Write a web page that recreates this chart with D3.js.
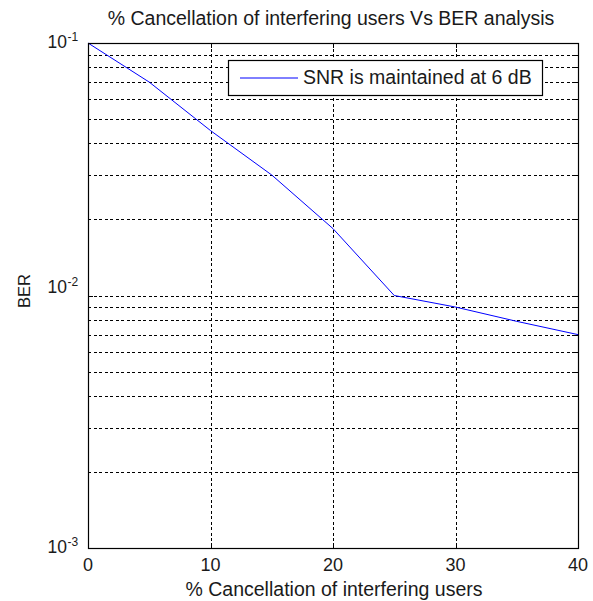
<!DOCTYPE html>
<html>
<head>
<meta charset="utf-8">
<script src="https://cdn.jsdelivr.net/npm/d3@7"></script>
<style>
  body { margin: 0; background: #fff; }
  text { font-family: "Liberation Sans", Arial, sans-serif; fill: #1a1a1a; }
</style>
</head>
<body>
<script>
// data
const cancellation = [0, 5, 10, 15, 20, 25, 30, 35, 40];
const ber = [0.1, 0.07, 0.045, 0.03, 0.0184, 0.01, 0.009, 0.0079, 0.007];
const xTicks = [0, 10, 20, 30, 40];
const yDecades = [1e-3, 1e-2, 1e-1];
const yExponents = ["-3", "-2", "-1"];
const titleText = "% Cancellation of interfering users Vs BER analysis";
const xLabel = "% Cancellation of interfering users";
const yLabel = "BER";
const legendLabel = "SNR is maintained at 6 dB";

const w = 593, h = 601;
const plotLeft = 88, plotRight = 578, plotTop = 43, plotBottom = 548;

const svg = d3.select('body').append('svg')
    .attr('width', w)
    .attr('height', h);

const x = d3.scaleLinear().domain([0, 40]).range([plotLeft, plotRight]);
const y = d3.scaleLog().domain([1e-3, 1e-1]).range([plotBottom, plotTop]);

const allYTicks = y.ticks().filter(v => v > 1e-3 && v < 1e-1);

const grid = svg.append('g')
    .attr('stroke', '#000')
    .attr('stroke-width', 1)
    .attr('stroke-dasharray', '3,2.5')
    .attr('shape-rendering', 'crispEdges');

grid.selectAll('.gx')
    .data(xTicks.slice(1, -1))
    .enter().append('line')
    .attr('x1', d => Math.round(x(d)) + 0.5)
    .attr('x2', d => Math.round(x(d)) + 0.5)
    .attr('y1', plotTop)
    .attr('y2', plotBottom);

grid.selectAll('.gy')
    .data(allYTicks)
    .enter().append('line')
    .attr('x1', plotLeft)
    .attr('x2', plotRight)
    .attr('y1', d => Math.round(y(d)) + 0.5)
    .attr('y2', d => Math.round(y(d)) + 0.5);

// tick marks inside the box
const ticks = svg.append('g')
    .attr('stroke', '#000')
    .attr('stroke-width', 1)
    .attr('shape-rendering', 'crispEdges');

xTicks.forEach(function (d) {
    const px = Math.round(x(d)) + 0.5;
    ticks.append('line').attr('x1', px).attr('x2', px).attr('y1', plotBottom).attr('y2', plotBottom - 5);
    ticks.append('line').attr('x1', px).attr('x2', px).attr('y1', plotTop).attr('y2', plotTop + 5);
});

y.ticks().forEach(function (d) {
    const py = Math.round(y(d)) + 0.5;
    const len = yDecades.indexOf(d) >= 0 ? 5 : 3;
    ticks.append('line').attr('x1', plotLeft).attr('x2', plotLeft + len).attr('y1', py).attr('y2', py);
    ticks.append('line').attr('x1', plotRight).attr('x2', plotRight - len).attr('y1', py).attr('y2', py);
});

// data line
const line = d3.line()
    .x((d, i) => x(cancellation[i]))
    .y(d => y(d));

svg.append('path')
    .datum(ber)
    .attr('fill', 'none')
    .attr('stroke', '#0000ff')
    .attr('stroke-width', 1)
    .attr('d', line);

// box
svg.append('rect')
    .attr('x', plotLeft + 0.5)
    .attr('y', plotTop + 0.5)
    .attr('width', plotRight - plotLeft)
    .attr('height', plotBottom - plotTop)
    .attr('fill', 'none')
    .attr('stroke', '#000')
    .attr('stroke-width', 1.2);

// x tick labels
svg.selectAll('.xl')
    .data(xTicks)
    .enter().append('text')
    .attr('x', d => x(d))
    .attr('y', 571)
    .attr('text-anchor', 'middle')
    .attr('font-size', 18)
    .text(d => d);

// y tick labels, 10 with superscript exponent
const yl = svg.selectAll('.yl')
    .data(yDecades)
    .enter().append('g');

yl.append('text')
    .attr('x', 67)
    .attr('y', (d, i) => y(d) + (i === 1 ? -3 : 5))
    .attr('text-anchor', 'end')
    .attr('font-size', 17.5)
    .text('10');

yl.append('text')
    .attr('x', 67.5)
    .attr('y', (d, i) => y(d) + (i === 1 ? -10 : -2))
    .attr('font-size', 12)
    .text((d, i) => yExponents[i]);

// title and axis labels
svg.append('text')
    .attr('x', 331)
    .attr('y', 25)
    .attr('text-anchor', 'middle')
    .attr('font-size', 19.5)
    .text(titleText);

svg.append('text')
    .attr('x', 334)
    .attr('y', 596)
    .attr('text-anchor', 'middle')
    .attr('font-size', 19.5)
    .text(xLabel);

svg.append('text')
    .attr('transform', 'translate(30,' + 291 + ') rotate(-90)')
    .attr('text-anchor', 'middle')
    .attr('font-size', 16.5)
    .text(yLabel);

// legend
const legend = svg.append('g');
legend.append('rect')
    .attr('x', 228.5)
    .attr('y', 60.5)
    .attr('width', 314)
    .attr('height', 35)
    .attr('fill', '#fff')
    .attr('stroke', '#000')
    .attr('stroke-width', 1.2);
legend.append('line')
    .attr('x1', 240)
    .attr('x2', 298)
    .attr('y1', 78)
    .attr('y2', 78)
    .attr('stroke', '#0000ff')
    .attr('stroke-width', 1);
legend.append('text')
    .attr('x', 303)
    .attr('y', 84)
    .attr('font-size', 19.5)
    .text(legendLabel);
</script>
</body>
</html>
